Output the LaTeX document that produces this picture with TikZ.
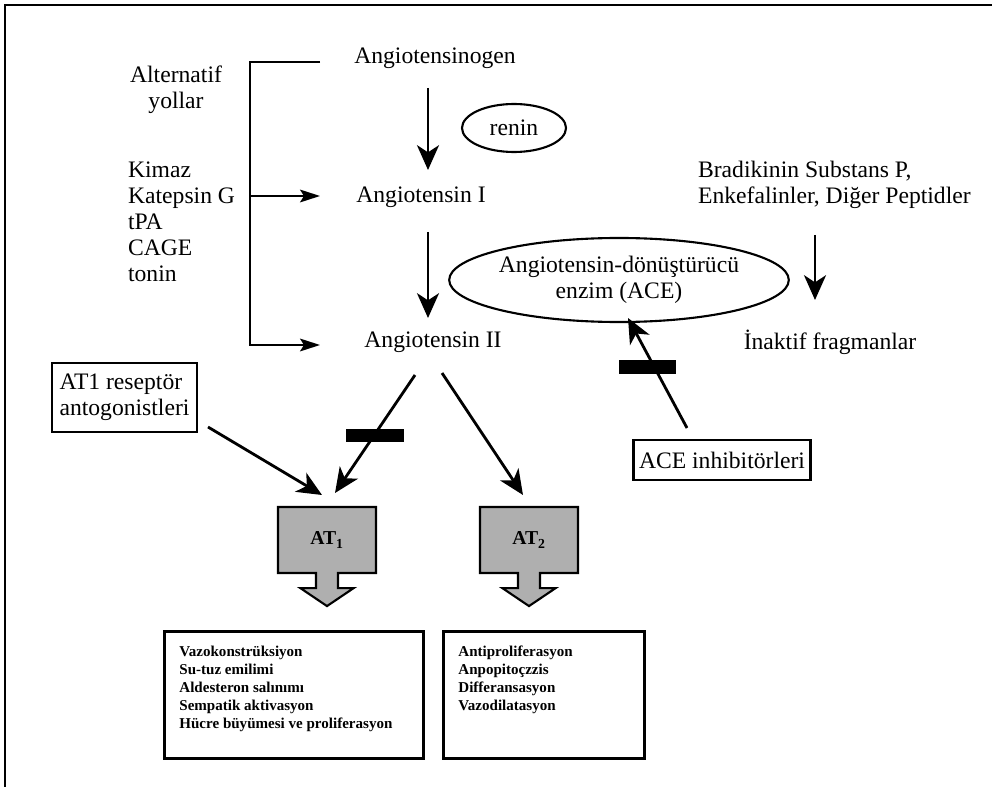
\documentclass[tikz,border=0pt]{standalone}
\usepackage{fontspec}
\setmainfont{Liberation Serif}
\usepackage{tikz}
\usetikzlibrary{shapes.geometric, shapes.arrows, arrows.meta, positioning, calc}
\definecolor{atgray}{HTML}{AFAFAF}

\begin{document}
\begin{tikzpicture}[
    x=0.025cm, y=-0.025cm,
    lbl/.style={font=\fontsize{16.8}{18.5}\selectfont, inner sep=2pt},
    oval/.style={ellipse, draw, line width=1.5pt, inner sep=0pt, font=\fontsize{16.8}{18.5}\selectfont, align=center},
    frame/.style={rectangle, draw, line width=1.5pt, inner sep=1pt, font=\fontsize{16.8}{18.5}\selectfont},
    atbox/.style={shape=arrow box, draw, line width=1.5pt, fill=atgray, minimum width=2.45cm, minimum height=1.65cm,
        arrow box arrows={south:0.8cm}, arrow box shaft width=0.55cm, arrow box head extend=0.39cm,
        arrow box tip angle=112, inner sep=0pt, font=\bfseries\fontsize{14}{16}\selectfont},
    effbox/.style={rectangle, draw, line width=2pt, anchor=north west, inner xsep=0.375cm, inner ysep=0.3cm,
        font=\bfseries\fontsize{10.7}{12.8}\selectfont},
    blok/.style={rectangle, fill=black, minimum width=1.425cm, minimum height=0.325cm, inner sep=0pt},
    arr/.style={line width=2pt, -{Stealth[length=0.62cm, width=0.55cm, inset=0.18cm]}},
    rail/.style={line width=1.3pt},
]
\useasboundingbox (0,0) rectangle (992,787);

% frame
\draw[line width=2pt] (992,5) -- (5,5) -- (5,787);

% main pathway
\node[lbl] (agen) at (435,58) {Angiotensinogen};
\node[oval, minimum width=2.6cm, minimum height=1.2cm] (renin) at (514,128) {renin};
\node[lbl] (ang1) at (421,197) {Angiotensin I};
\node[lbl] (ang2) at (433,342) {Angiotensin II};
\node[oval, minimum width=8.2cm, minimum height=2.1cm] (ace) at (619,280) {Angiotensin-dönüştürücü\\enzim (ACE)};

\draw[arr] ([shift={(-7,30)}]agen.center) -- ([shift={(7,-27)}]ang1.center);
\draw[arr] ([shift={(7,35)}]ang1.center) -- ([shift={(-5,-24)}]ang2.center);

% alternative ways
\node[lbl, align=center] (altyol) at (176,90) {Alternatif\\yollar};
\node[lbl, align=left, anchor=west] (enzlist) at (125,222) {Kimaz\\Katepsin G\\tPA\\CAGE\\tonin};
\draw[rail, -{Stealth[length=0.5cm, width=0.32cm, inset=0.1cm]}] ([shift={(-115,4)}]agen.center) -- ++(-70,0) |- ([shift={(-113,3)}]ang2.center);
\draw[rail, -{Stealth[length=0.5cm, width=0.32cm, inset=0.1cm]}] ([shift={(-171,-1)}]ang1.center) -- ([shift={(-101,-1)}]ang1.center);

% peptides
\node[lbl, align=left, anchor=west] (pept) at (695,185) {Bradikinin Substans P,\\Enkefalinler, Diğer Peptidler};
\node[lbl] (inakt) at (830,342) {İnaktif fragmanlar};
\draw[arr] ([shift={(-15,-107)}]inakt.center) -- ([shift={(-15,-42)}]inakt.center);

% blockers
\node[frame, minimum width=4.425cm, minimum height=1cm] (acei) at (722,460) {ACE inhibitörleri};
\node[frame, align=left, minimum width=3.625cm, minimum height=1.725cm] (atant) at (124.5,397.5) {AT1 reseptör\\antogonistleri};
\draw[arr] ([shift={(-35,-32)}]acei.center) -- ([shift={(9,38)}]ace.center);
\node[blok] (bar2) at (647,367) {};

% receptors
\foreach \n/\x in {1/327, 2/529} {
    \node[atbox] (at\n) at (\x,540) {AT\textsubscript{\n}};
}
\draw[arr] ([shift={(83.5,29.5)}]atant.center) -- ([shift={(-5,-45)}]at1.center);
\draw[arr] ([shift={(-18,33)}]ang2.center) -- ([shift={(8,-47)}]at1.center);
\draw[arr] ([shift={(9,31)}]ang2.center) -- ([shift={(-6,-45)}]at2.center);
\node[blok] (bar1) at (375,435) {};

% effects
\node[effbox] (eff1) at (163,630) {\parbox[t][2.575cm][t]{5.725cm}{\vspace*{2pt}Vazokonstrüksiyon\\Su-tuz emilimi\\Aldesteron salınımı\\Sempatik aktivasyon\\Hücre büyümesi ve proliferasyon}};
\node[effbox] (eff2) at (442,630) {\parbox[t][2.575cm][t]{4.275cm}{\vspace*{2pt}Antiproliferasyon\\Anpopitoçzzis\\Differansasyon\\Vazodilatasyon}};

\end{tikzpicture}
\end{document}
